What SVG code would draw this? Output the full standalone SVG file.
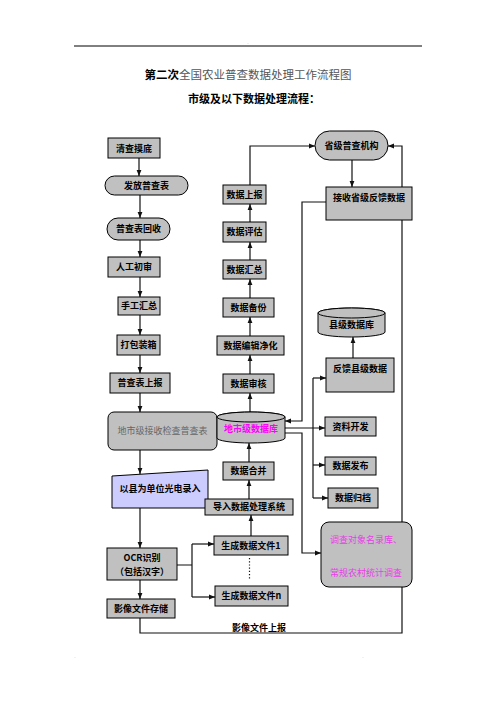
<svg xmlns="http://www.w3.org/2000/svg" width="496" height="702" viewBox="0 0 496 702">
<defs>
<marker id="ah" viewBox="0 0 10 10" refX="10" refY="5" markerWidth="6" markerHeight="6" orient="auto" markerUnits="userSpaceOnUse"><path d="M0,1 L10,5 L0,9 z" fill="#111"/></marker>
</defs>
<style>
.b{fill:#c0c0c0;stroke:#000;stroke-width:1}
.t{font-family:"Noto Sans CJK SC","Liberation Sans",sans-serif;font-size:9px;font-weight:bold;text-anchor:middle;fill:#000}
.c{fill:none;stroke:#111;stroke-width:1.2}
.a{marker-end:url(#ah)}
.m{fill:#ff00ff}
</style>
<rect width="496" height="702" fill="#fff"/>
<g id="page">
<line x1="74" y1="46" x2="422" y2="46" stroke="#000" stroke-width="1"/>
<text x="248" y="44" font-family="Liberation Sans, sans-serif" font-size="5" fill="#aaa" text-anchor="middle">.</text>
<text x="75" y="658" font-family="Liberation Sans, sans-serif" font-size="5" fill="#aaa" text-anchor="middle">.</text>
<text x="363" y="658" font-family="Liberation Sans, sans-serif" font-size="5" fill="#aaa" text-anchor="middle">.</text>
<text x="248" y="79" text-anchor="middle" font-family="Noto Sans CJK SC, sans-serif" font-size="11.5"><tspan font-weight="bold" fill="#000">第二次</tspan><tspan fill="#555">全国农业普查数据处理工作流程图</tspan></text>
<text x="254" y="103" text-anchor="middle" font-family="Noto Sans CJK SC, sans-serif" font-size="11" font-weight="bold">市级及以下数据处理流程：</text>
</g>
<g id="connectors">
<path class="c a" d="M139,158 V176"/>
<path class="c a" d="M140,195 V218"/>
<path class="c a" d="M140,240 V257"/>
<path class="c a" d="M140,277 V297"/>
<path class="c a" d="M140,315 V335"/>
<path class="c a" d="M140,355 V373"/>
<path class="c a" d="M140,393 V412"/>
<path class="c a" d="M140,450 V474"/>
<path class="c a" d="M140,508 V548"/>
<path class="c a" d="M140,580 V599"/>
<path class="c" d="M177,565 H192 M192,544 V597"/>
<path class="c a" d="M192,544 H214"/>
<path class="c a" d="M192,597 H215"/>
<path d="M249.5,558 V579" fill="none" stroke="#111" stroke-width="1.2" stroke-dasharray="1.2,2"/>
<path class="c a" d="M251,536 V515"/>
<path class="c a" d="M249,499 V480"/>
<path class="c a" d="M249,462 V443"/>
<path class="c a" d="M250,412 V393"/>
<path class="c a" d="M250,374 V355"/>
<path class="c a" d="M250,336 V317"/>
<path class="c a" d="M250,298 V279"/>
<path class="c a" d="M250,260 V242"/>
<path class="c a" d="M250,222 V204"/>
<path class="c a" d="M250,185 V146 H315"/>
<path class="c a" d="M352,160 V187"/>
<path class="c a" d="M326,202 H302 V421 H285"/>
<path class="c a" d="M353,358 V337"/>
<path class="c a" d="M285,428 H325"/>
<path class="c" d="M313,378 V498"/>
<path class="c a" d="M313,378 H326"/>
<path class="c a" d="M313,465 H325"/>
<path class="c a" d="M313,498 H328"/>
<path class="c a" d="M285,433 H302 V553 H321"/>
<path class="c a" d="M140,618 V633 H402 V146 H388"/>
<text class="t" x="259" y="630.5">影像文件上报</text>
</g>
<g id="n1"><rect class="b" x="108" y="138" width="52" height="20"/><text class="t" x="134" y="151.5">清查摸底</text></g>
<g id="n2"><rect class="b" x="105" y="176" width="83" height="19" rx="9.5"/><text class="t" x="146.5" y="188.7">发放普查表</text></g>
<g id="n3"><rect class="b" x="107" y="218" width="63" height="22" rx="11"/><text class="t" x="138.5" y="232.2">普查表回收</text></g>
<g id="n4"><rect class="b" x="108" y="257" width="52" height="20"/><text class="t" x="134" y="270.2">人工初审</text></g>
<g id="n5"><rect class="b" x="118" y="297" width="42" height="18"/><text class="t" x="139" y="309.2">手工汇总</text></g>
<g id="n6"><rect class="b" x="117" y="335" width="43" height="20"/><text class="t" x="138.5" y="348.2">打包装箱</text></g>
<g id="n7"><rect class="b" x="110" y="373" width="60" height="20"/><text class="t" x="140" y="386.2">普查表上报</text></g>
<g id="n8"><rect class="b" x="108" y="412" width="109" height="38" rx="6"/><text class="t" x="162.5" y="434" style="font-weight:normal;fill:#666">地市级接收检查普查表</text></g>
<g id="n9"><path d="M112,476 L208,470 L208,508 L112,508 Z" fill="#ccccff" stroke="#000" stroke-width="1"/><text class="t" x="160" y="492">以县为单位光电录入</text></g>
<g id="n10"><rect class="b" x="107" y="548" width="70" height="32"/><text class="t" x="142" y="560.5">OCR识别</text><text class="t" x="142" y="575">（包括汉字）</text></g>
<g id="n11"><rect class="b" x="107" y="599" width="68" height="19"/><text class="t" x="141" y="611.7">影像文件存储</text></g>
<g id="n12"><rect class="b" x="223" y="185" width="43" height="19"/><text class="t" x="244.5" y="197.7">数据上报</text></g>
<g id="n13"><rect class="b" x="223" y="222" width="43" height="20"/><text class="t" x="244.5" y="235.2">数据评估</text></g>
<g id="n14"><rect class="b" x="223" y="260" width="43" height="19"/><text class="t" x="244.5" y="272.7">数据汇总</text></g>
<g id="n15"><rect class="b" x="223" y="298" width="51" height="19"/><text class="t" x="248.5" y="310.7">数据备份</text></g>
<g id="n16"><rect class="b" x="217" y="336" width="67" height="19"/><text class="t" x="250.5" y="348.7">数据编辑净化</text></g>
<g id="n17"><rect class="b" x="223" y="374" width="51" height="19"/><text class="t" x="248.5" y="386.7">数据审核</text></g>
<g id="n18"><path class="b" d="M217,417 V438 A34,5 0 0 0 285,438 V417 A34,5 0 0 0 217,417 Z"/><ellipse class="b" cx="251" cy="417" rx="34" ry="5"/><text class="t m" x="251" y="431.5">地市级数据库</text></g>
<g id="n19"><rect class="b" x="223" y="462" width="51" height="18"/><text class="t" x="248.5" y="474.2">数据合并</text></g>
<g id="n20"><rect class="b" x="205" y="499" width="88" height="16"/><text class="t" x="249" y="510">导入数据处理系统</text></g>
<g id="n21"><rect class="b" x="214" y="536" width="74" height="19"/><text class="t" x="251" y="548.7">生成数据文件1</text></g>
<g id="n22"><rect class="b" x="215" y="586" width="73" height="20"/><text class="t" x="251.5" y="599.2">生成数据文件n</text></g>
<g id="n23"><rect class="b" x="315" y="131" width="73" height="29" rx="14.5"/><text class="t" x="351.5" y="148.7">省级普查机构</text></g>
<g id="n24"><rect class="b" x="326" y="187" width="86" height="33"/><text class="t" x="369" y="201.2">接收省级反馈数据</text></g>
<g id="n25"><path class="b" d="M318,313 V332 A33.5,5 0 0 0 385,332 V313 A33.5,5 0 0 0 318,313 Z"/><ellipse class="b" cx="351.5" cy="313" rx="33.5" ry="5"/><text class="t" x="351.5" y="328.2">县级数据库</text></g>
<g id="n26"><rect class="b" x="326" y="358" width="68" height="34"/><text class="t" x="360" y="372.2">反馈县级数据</text></g>
<g id="n27"><rect class="b" x="325" y="417" width="51" height="19"/><text class="t" x="350.5" y="429.7">资料开发</text></g>
<g id="n28"><rect class="b" x="325" y="457" width="51" height="18"/><text class="t" x="350.5" y="469.2">数据发布</text></g>
<g id="n29"><rect class="b" x="328" y="488" width="50" height="20"/><text class="t" x="353" y="501.2">数据归档</text></g>
<g id="n30"><rect class="b" x="321" y="522" width="91" height="65" rx="8"/><text class="t" x="366" y="543.2" style="font-weight:normal;fill:#e83ee8">调查对象名录库、</text><text class="t" x="366" y="576.2" style="font-weight:normal;fill:#e83ee8">常规农村统计调查</text></g>
</svg>
